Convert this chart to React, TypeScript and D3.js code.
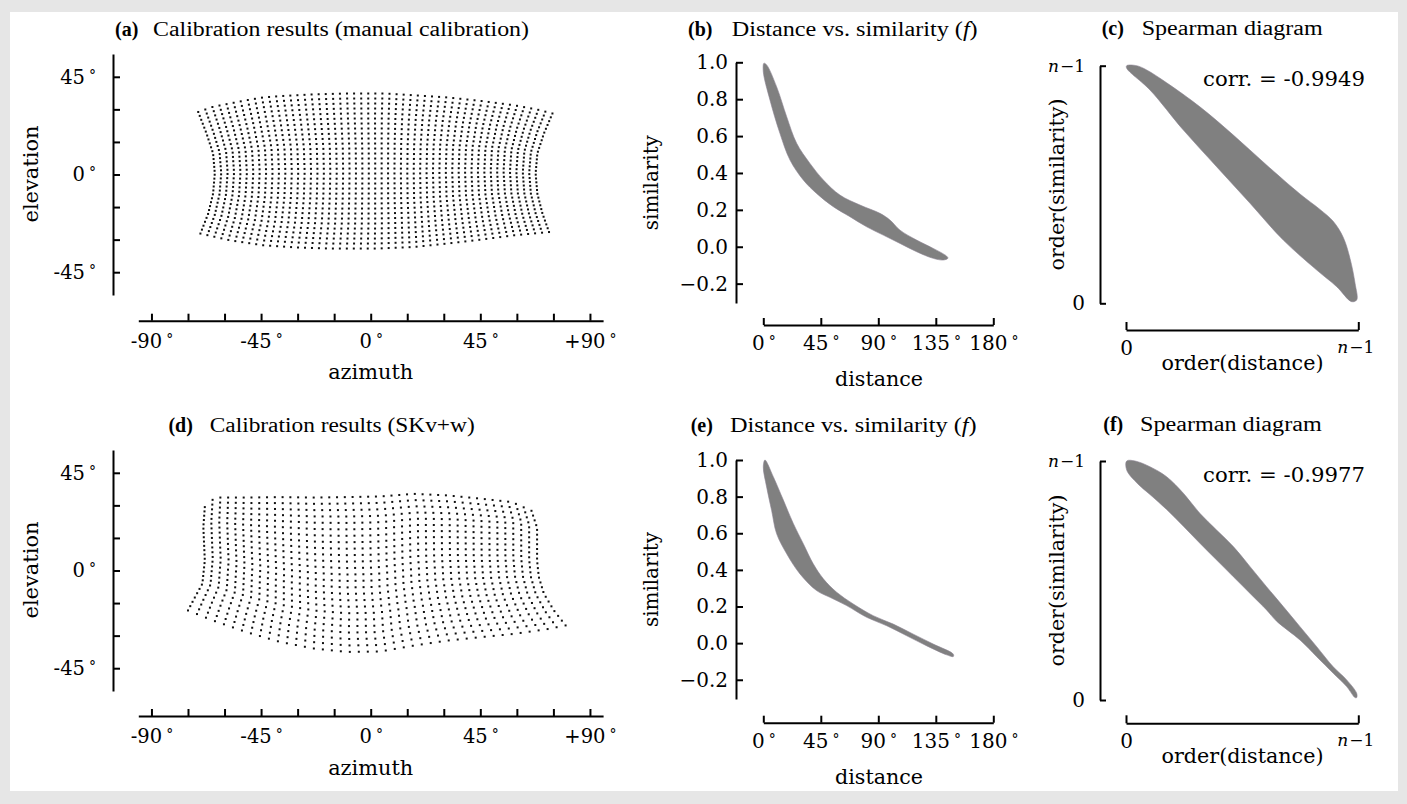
import React, { useEffect, useRef } from 'react'
import * as d3 from 'd3'

const W = 1407
const H = 804

type Pt = [number, number]

// ---- ticks ----
const azTicks = [-90, -75, -60, -45, -30, -15, 0, 15, 30, 45, 60, 75, 90]
const azLabels = ['-90', '', '', '-45', '', '', '0', '', '', '45', '', '', '+90']
const elTicks = [-45, -30, -15, 0, 15, 30, 45]
const elLabels = ['-45', '', '', '0', '', '', '45']
const distTicks = [0, 45, 90, 135, 180]
const simTicks = [-0.2, 0, 0.2, 0.4, 0.6, 0.8, 1]
const orderTicks = [0, 1]

// ---- (a) manual calibration: outline of the point grid [azimuth, elevation] ----
const manualTop: Pt[] = [[-70.8, 28.8], [-64.7, 31.2], [-57.8, 32.7], [-51, 34.2], [-44.1, 35.5], [-37.2, 36.1], [-23.5, 36.9], [-9.8, 37.3], [6, 37.3], [17.6, 36.5], [31.4, 35.5], [45.1, 33.9], [58.8, 31.9], [68.4, 29.9], [74.6, 28.1]]
const manualBottom: Pt[] = [[-69.9, -27.2], [-57.8, -30.3], [-44.1, -32.6], [-30.4, -33.6], [-16.7, -34.1], [2.5, -34.1], [17.6, -33.4], [31.4, -31.8], [45.1, -30], [58.8, -28], [73.2, -26.5]]
const manualLeft: Pt[] = [[-70.8, 28.8], [-67.4, 18.9], [-64.7, 9.7], [-64, 0.5], [-64.7, -8.8], [-66.7, -18], [-69.9, -27.2]]
const manualRight: Pt[] = [[74.6, 28.1], [71.1, 18.9], [68.4, 9.7], [67.7, 0.5], [68.4, -8.8], [70.5, -18], [73.2, -26.5]]
const manualCols = 51
const manualRows = 32

// ---- (d) SKv+w calibration ----
const skvTop: Pt[] = [[-68.1, 29.2], [-63.9, 33.6], [-50.8, 33.6], [-37.2, 33.8], [-23.6, 33.6], [-9.9, 33.8], [3.9, 34.1], [17.6, 35.3], [31.3, 34.6], [45.1, 33.1], [58, 31.5], [66, 27.5]]
const skvBottom: Pt[] = [[-75, -18.4], [-64.8, -23], [-50.9, -28.4], [-37.2, -32.9], [-23.5, -35.9], [-9.8, -37.5], [3.9, -37.3], [17.6, -34.6], [31.3, -32.3], [45.1, -30.7], [58.8, -29.2], [72.5, -27], [80, -25.3]]
const skvLeft: Pt[] = [[-68.1, 29.2], [-68.7, 20], [-68.1, 4.6], [-69.1, -6.1], [-72, -12], [-75, -18.4]]
const skvRight: Pt[] = [[66, 27.5], [68.3, 19.7], [68.3, 4.6], [69, -3], [71.1, -10.7], [75.2, -18.4], [80, -25.3]]
const skvCols = 43
const skvRows = 25

// ---- distance vs similarity bands [distance, similarity] ----
const simUpperB: Pt[] = [[0.5, 0.995], [2.6, 0.986], [10.4, 0.868], [18.3, 0.705], [26.1, 0.561], [36.5, 0.452], [47, 0.362], [60, 0.28], [75.7, 0.226], [91.3, 0.181], [99.1, 0.145], [107, 0.09], [120, 0.036], [133, -0.009], [143.5, -0.051], [144.5, -0.062]]
const simLowerB: Pt[] = [[0, 0.949], [5.2, 0.796], [13, 0.615], [20.9, 0.47], [31.3, 0.362], [41.7, 0.289], [54.8, 0.217], [67.8, 0.163], [80.9, 0.108], [93.9, 0.063], [107, 0.018], [120, -0.027], [133, -0.063], [141, -0.072]]
const simUpperE: Pt[] = [[1.3, 1.0], [7.8, 0.909], [15.7, 0.781], [23.5, 0.653], [31.3, 0.543], [39.1, 0.433], [47, 0.351], [57.4, 0.278], [70.4, 0.214], [86, 0.15], [101.7, 0.104], [117.4, 0.049], [133, -0.005], [148.7, -0.06]]
const simLowerE: Pt[] = [[0, 0.963], [2.6, 0.853], [6.5, 0.725], [10.4, 0.598], [18.3, 0.488], [28.7, 0.378], [41.7, 0.287], [52.2, 0.25], [65.2, 0.205], [80.9, 0.141], [96.6, 0.095], [112.3, 0.04], [128, -0.015], [143.5, -0.064], [148.7, -0.073]]

// ---- spearman bands [order(distance), order(similarity)] as fraction of n-1 ----
const rankUpperC: Pt[] = [[0.003, 1.0], [0.046, 1.0], [0.089, 0.982], [0.175, 0.928], [0.318, 0.827], [0.462, 0.708], [0.605, 0.582], [0.749, 0.46], [0.835, 0.395], [0.892, 0.345], [0.935, 0.278], [0.964, 0.19], [0.986, 0.084], [0.993, 0.014]]
const rankLowerC: Pt[] = [[0.003, 0.989], [0.103, 0.898], [0.247, 0.729], [0.39, 0.575], [0.534, 0.421], [0.677, 0.266], [0.821, 0.14], [0.907, 0.07], [0.971, 0.007]]
const rankUpperF: Pt[] = [[0.003, 1.0], [0.039, 1.0], [0.103, 0.976], [0.175, 0.934], [0.247, 0.865], [0.318, 0.781], [0.39, 0.711], [0.462, 0.642], [0.534, 0.558], [0.605, 0.474], [0.677, 0.391], [0.749, 0.307], [0.821, 0.223], [0.892, 0.139], [0.95, 0.084], [0.993, 0.028], [0.993, 0.01]]
const rankLowerF: Pt[] = [[0.003, 0.962], [0.05, 0.905], [0.103, 0.86], [0.175, 0.797], [0.247, 0.727], [0.318, 0.656], [0.39, 0.586], [0.462, 0.516], [0.534, 0.446], [0.605, 0.377], [0.648, 0.33], [0.749, 0.251], [0.821, 0.181], [0.892, 0.112], [0.95, 0.056], [0.986, 0.01]]

const corrC = 'corr. = -0.9949'
const corrF = 'corr. = -0.9977'

const PALA = 'Liberation Serif'
const DEJA = 'DejaVu Serif'

// piecewise edge through the outline points, keyed by azimuth or elevation
function edge(points: Pt[], byAz: boolean) {
  return d3.scaleLinear()
    .domain(points.map(p => (byAz ? p[0] : p[1])))
    .range(points.map(p => (byAz ? p[1] : p[0])))
    .clamp(true)
}

// fill the outline with the calibration grid (coons patch)
function warpGrid(top: Pt[], bottom: Pt[], left: Pt[], right: Pt[], nCols: number, nRows: number) {
  const T = edge(top, true)
  const B = edge(bottom, true)
  const L = edge(left, false)
  const R = edge(right, false)
  const tl = top[0], tr = top[top.length - 1]
  const bl = bottom[0], br = bottom[bottom.length - 1]
  const out: Pt[] = []
  for (let i = 0; i < nCols; i++) {
    const u = i / (nCols - 1)
    const tAz = tl[0] + (tr[0] - tl[0]) * u
    const bAz = bl[0] + (br[0] - bl[0]) * u
    const t = [tAz, T(tAz)]
    const b = [bAz, B(bAz)]
    for (let j = 0; j < nRows; j++) {
      const v = j / (nRows - 1)
      const lEl = tl[1] + (bl[1] - tl[1]) * v
      const rEl = tr[1] + (br[1] - tr[1]) * v
      const l = [L(lEl), lEl]
      const r = [R(rEl), rEl]
      const p = [0, 1].map(k =>
        (1 - v) * t[k] + v * b[k] + (1 - u) * l[k] + u * r[k] -
        ((1 - u) * (1 - v) * tl[k] + u * (1 - v) * tr[k] + (1 - u) * v * bl[k] + u * v * br[k]))
      out.push([p[0], p[1]])
    }
  }
  return out
}

function styleAxis(g: any, family: string, size: number) {
  g.attr('font-family', null).attr('font-size', null)
  g.select('.domain').attr('stroke', '#000').attr('stroke-width', 2)
  g.selectAll('.tick line').attr('stroke', '#000').attr('stroke-width', 2)
  g.selectAll('.tick text').attr('fill', '#000').attr('font-family', family).attr('font-size', size)
}

// small raised ring after the number, like $^\circ$
function addDegrees(g: any) {
  g.selectAll('.tick text').each(function (this: any) {
    const t = d3.select(this)
    if (t.text() !== '') t.append('tspan').attr('dx', 4).attr('dy', -4).attr('font-size', 14).text('°')
  })
}

function title(svg: any, tagX: number, textX: number, textW: number, y: number, tag: string, text: string, italic?: string) {
  svg.append('text').attr('x', tagX).attr('y', y).attr('font-family', PALA).attr('font-size', 20)
    .attr('font-weight', 'bold').text(tag)
  const t = svg.append('text').attr('x', textX).attr('y', y).attr('font-family', PALA).attr('font-size', 20)
    .attr('textLength', textW).attr('lengthAdjust', 'spacingAndGlyphs')
  if (italic) {
    t.append('tspan').text(text + ' (')
    t.append('tspan').attr('font-style', 'italic').text(italic)
    t.append('tspan').text(')')
  } else t.text(text)
}

function xLabel(svg: any, x: number, y: number, w: number, text: string) {
  svg.append('text').attr('x', x).attr('y', y).attr('text-anchor', 'middle')
    .attr('font-family', DEJA).attr('font-size', 20.5)
    .attr('textLength', w).attr('lengthAdjust', 'spacingAndGlyphs').text(text)
}

function yLabel(svg: any, x: number, y: number, w: number, text: string) {
  svg.append('text').attr('transform', `translate(${x},${y}) rotate(-90)`).attr('text-anchor', 'middle')
    .attr('font-family', DEJA).attr('font-size', 20.5)
    .attr('textLength', w).attr('lengthAdjust', 'spacingAndGlyphs').text(text)
}

function drawCalib(svg: any, yTop: number, xAxisY: number, pts: Pt[]) {
  const x = d3.scaleLinear().domain([-95.4, 95.4]).range([138.3, 603.1])
  const y = d3.scaleLinear().domain([-55.5, 55.5]).range([yTop + 241, yTop])
  svg.append('g').selectAll('rect').data(pts).join('rect')
    .attr('x', (d: Pt) => x(d[0]) - 1).attr('y', (d: Pt) => y(d[1]) - 1)
    .attr('width', 2).attr('height', 2).attr('fill', '#111')

  const ya = svg.append('g').attr('transform', 'translate(113,0)')
    .call(d3.axisLeft(y).tickValues(elTicks).tickSize(-7).tickSizeOuter(0).tickPadding(17)
      .tickFormat((d: any, i: number) => elLabels[i]))
  styleAxis(ya, DEJA, 19.5)
  addDegrees(ya)

  const xa = svg.append('g').attr('transform', `translate(0,${xAxisY})`)
    .call(d3.axisBottom(x).tickValues(azTicks).tickSize(-7).tickSizeOuter(0).tickPadding(13)
      .tickFormat((d: any, i: number) => azLabels[i]))
  styleAxis(xa, DEJA, 19.5)
  addDegrees(xa)

  xLabel(svg, 370.7, xAxisY + 58.5, 85, 'azimuth')
  yLabel(svg, 38, yTop + 120, 97, 'elevation')
}

function band(svg: any, x: any, y: any, upper: Pt[], lower: Pt[]) {
  const poly = upper.concat(lower.slice().reverse())
  const line = d3.line<Pt>().x(d => x(d[0])).y(d => y(d[1])).curve(d3.curveCatmullRomClosed.alpha(0.5))
  svg.append('path').attr('d', line(poly)).attr('fill', '#808080').attr('stroke', '#8a8290').attr('stroke-width', 0.6)
}

function drawSim(svg: any, yTop: number, yBot: number, xAxisY: number, upper: Pt[], lower: Pt[]) {
  const x = d3.scaleLinear().domain([0, 180]).range([763.3, 993.3])
  const y = d3.scaleLinear().domain([-0.305, 1]).range([yBot, yTop])
  band(svg, x, y, upper, lower)

  const ya = svg.append('g').attr('transform', 'translate(736,0)')
    .call(d3.axisLeft(y).tickValues(simTicks).tickSize(-7).tickSizeOuter(0).tickPadding(8)
      .tickFormat(d3.format('.1f') as any))
  styleAxis(ya, DEJA, 20)

  const xa = svg.append('g').attr('transform', `translate(0,${xAxisY})`)
    .call(d3.axisBottom(x).tickValues(distTicks).tickSize(-7).tickSizeOuter(0).tickPadding(11)
      .tickFormat((d: any) => String(d)))
  styleAxis(xa, DEJA, 20)
  addDegrees(xa)

  xLabel(svg, 879, xAxisY + 61, 88, 'distance')
  yLabel(svg, 658, (yTop + yBot) / 2, 95, 'similarity')
}

function nMinusOne(t: any) {
  t.text('')
  t.append('tspan').attr('font-style', 'italic').text('n')
  t.append('tspan').attr('dx', 1).text('−1')
}

function drawRank(svg: any, yTop: number, yBot: number, xAxisY: number, upper: Pt[], lower: Pt[], corr: string, corrY: number) {
  const x = d3.scaleLinear().domain([0, 1]).range([1126, 1358.3])
  const y = d3.scaleLinear().domain([0, 1]).range([yBot, yTop])
  band(svg, x, y, upper, lower)

  const ya = svg.append('g').attr('transform', 'translate(1100,0)')
    .call(d3.axisLeft(y).tickValues(orderTicks).tickSize(-6).tickSizeOuter(0).tickPadding(15)
      .tickFormat((d: any) => (d === 0 ? '0' : 'n')))
  styleAxis(ya, DEJA, 20)
  ya.selectAll('.tick text').filter((d: any) => d === 1).attr('font-size', 17).each(function (this: any) { nMinusOne(d3.select(this)) })

  const xa = svg.append('g').attr('transform', `translate(0,${xAxisY})`)
    .call(d3.axisBottom(x).tickValues(orderTicks).tickSize(-8).tickSizeOuter(0).tickPadding(11)
      .tickFormat((d: any) => (d === 0 ? '0' : 'n')))
  styleAxis(xa, DEJA, 20)
  xa.selectAll('.tick text').filter((d: any) => d === 1).attr('font-size', 17).attr('dx', -3).each(function (this: any) { nMinusOne(d3.select(this)) })

  svg.append('text').attr('x', 1203).attr('y', corrY).attr('font-family', DEJA).attr('font-size', 20)
    .attr('textLength', 162).attr('lengthAdjust', 'spacingAndGlyphs').text(corr)

  xLabel(svg, 1242.5, xAxisY + 40, 162, 'order(distance)')
  yLabel(svg, 1064, (yTop + yBot) / 2, 172, 'order(similarity)')
}

export default function App() {
  const ref = useRef<SVGSVGElement>(null)

  useEffect(() => {
    const svg = d3.select(ref.current)
    svg.selectAll('*').remove()

    svg.append('rect').attr('width', W).attr('height', H).attr('fill', '#e6e6e6')
    svg.append('rect').attr('x', 10).attr('y', 12).attr('width', 1388).attr('height', 779).attr('fill', '#fff')

    // top row
    title(svg, 115, 153, 376, 36, '(a)', 'Calibration results (manual calibration)')
    drawCalib(svg, 54, 320.7, warpGrid(manualTop, manualBottom, manualLeft, manualRight, manualCols, manualRows))
    title(svg, 688, 731.7, 246, 36, '(b)', 'Distance vs. similarity', 'f')
    drawSim(svg, 62.3, 303, 325, simUpperB, simLowerB)
    title(svg, 1101.7, 1141.7, 181, 35, '(c)', 'Spearman diagram')
    drawRank(svg, 65.7, 303.3, 330, rankUpperC, rankLowerC, corrC, 86)

    // bottom row
    title(svg, 168.4, 209.7, 265, 432, '(d)', 'Calibration results (SKv+w)')
    drawCalib(svg, 450, 716, warpGrid(skvTop, skvBottom, skvLeft, skvRight, skvCols, skvRows))
    title(svg, 690.7, 730, 246.7, 432, '(e)', 'Distance vs. similarity', 'f')
    drawSim(svg, 460, 699, 722.7, simUpperE, simLowerE)
    title(svg, 1103.3, 1140, 181.7, 431, '(f)', 'Spearman diagram')
    drawRank(svg, 461, 700, 723.3, rankUpperF, rankLowerF, corrF, 481.7)
  }, [])

  return (
    <svg ref={ref} width={W} height={H}
      style={{ position: 'absolute', left: 0, top: 0, display: 'block', background: '#fff' }} />
  )
}
